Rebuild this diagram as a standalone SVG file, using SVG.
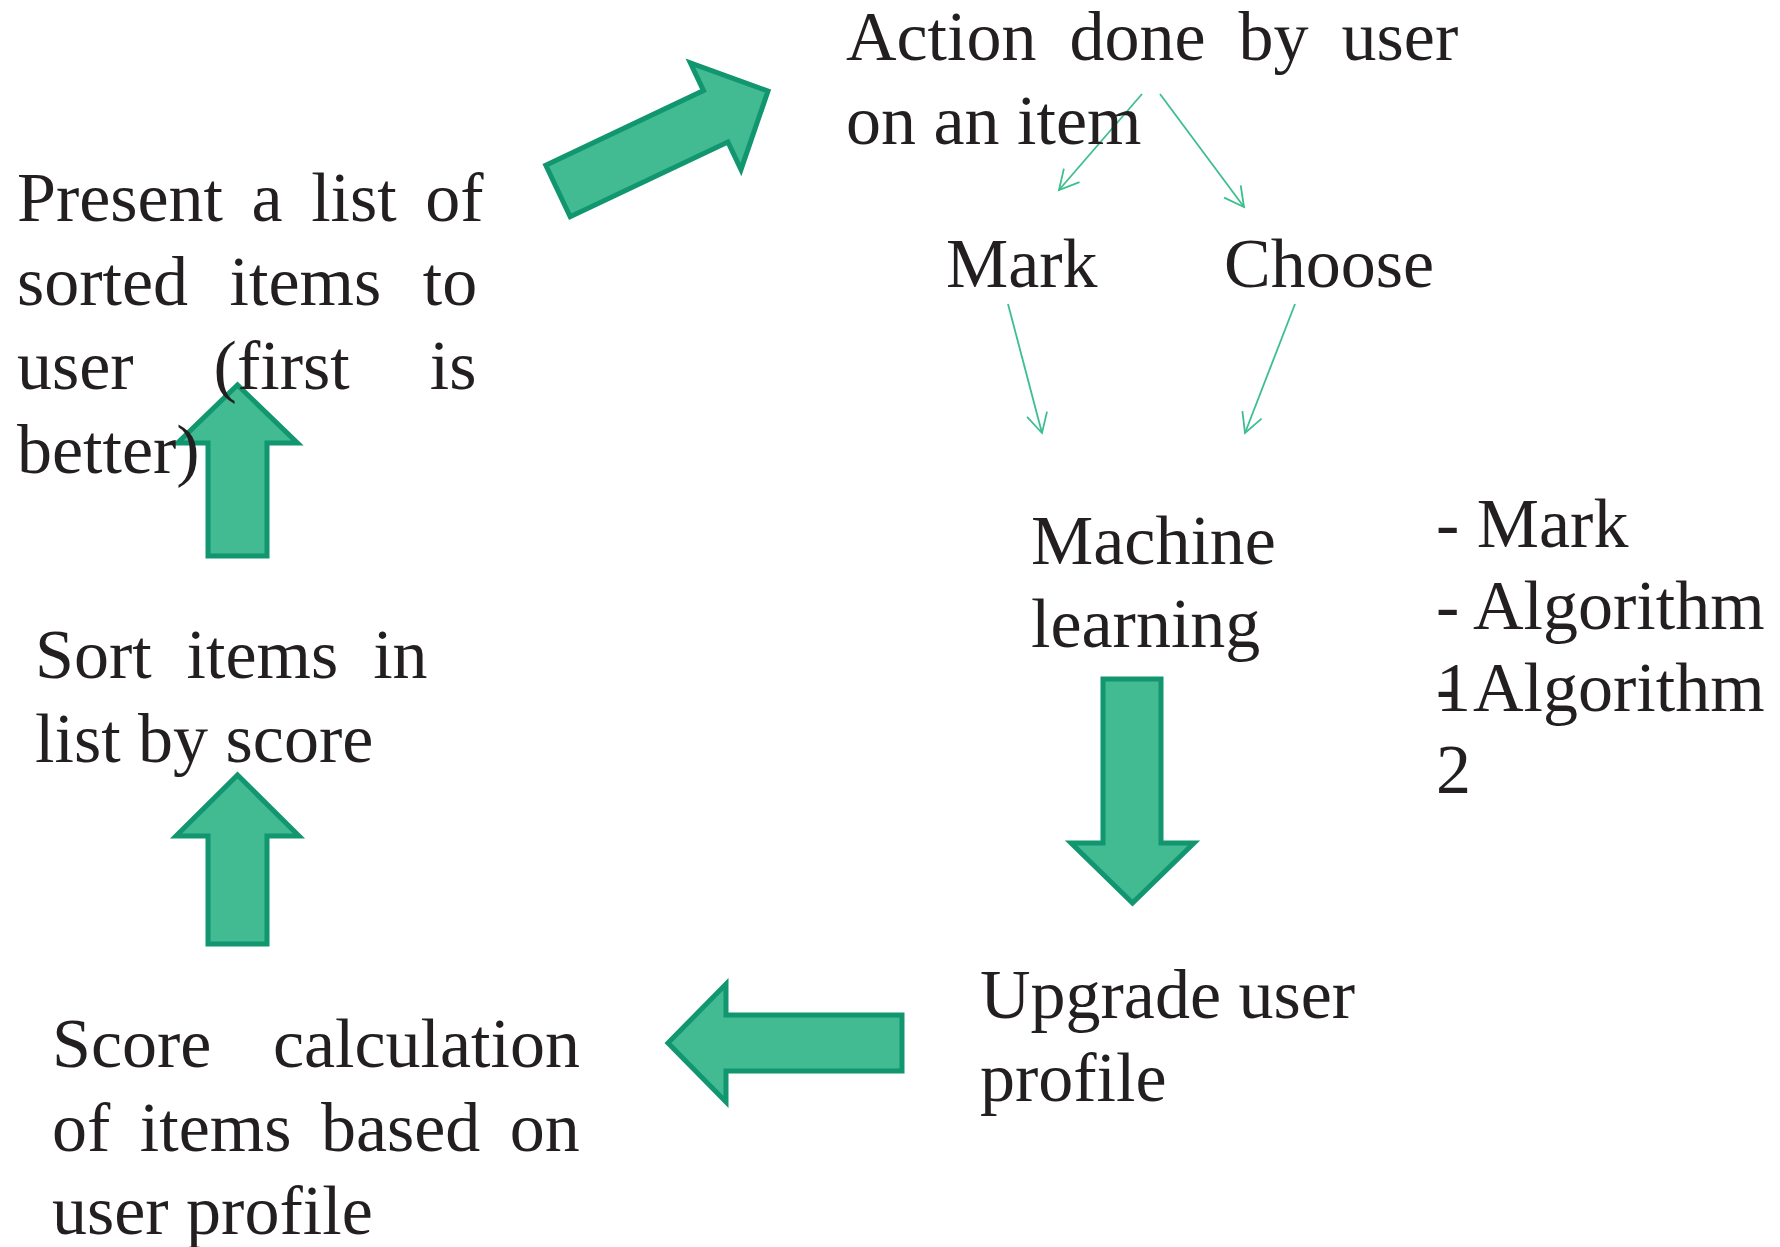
<svg xmlns="http://www.w3.org/2000/svg" width="1780" height="1247" viewBox="0 0 1780 1247">
<style>
  text { font-family: "Liberation Serif", "Times New Roman", serif; font-size: 70px; fill: #231f20; }
  .block { fill: #42ba92; stroke: #11966f; stroke-width: 5; stroke-linejoin: miter; }
  .thin { fill: none; stroke: #3dbe8f; stroke-width: 1.8; marker-end: url(#vhead); }
</style>
<defs>
  <marker id="vhead" markerUnits="userSpaceOnUse" markerWidth="26" markerHeight="26" viewBox="-23 -13 26 26" refX="0" refY="0" orient="auto" overflow="visible">
    <path d="M-19.4,-10.3 L0,0 L-19.4,10.3" fill="none" stroke="#3dbe8f" stroke-width="1.8"/>
  </marker>
</defs>
<rect width="1780" height="1247" fill="#ffffff"/>

<g id="connectors">
  <line class="thin" x1="1142" y1="94" x2="1059" y2="190"/>
  <line class="thin" x1="1160" y1="94" x2="1244" y2="207"/>
  <line class="thin" x1="1008" y1="304" x2="1042" y2="433"/>
  <line class="thin" x1="1295" y1="304" x2="1245" y2="433"/>
  <polygon id="arrow-present-action" class="block" points="545.8,165.3 703.5,90.6 690.4,63 768,91 741,169.6 727.9,142 570.2,216.7"/>
  <polygon id="arrow-ml-upgrade" class="block" points="1103,679 1161,679 1161,843 1194,843 1132.5,903 1071,843 1103,843"/>
  <polygon id="arrow-upgrade-score" class="block" points="902,1015 726,1015 726,984 668,1043 726,1102 726,1071 902,1071"/>
  <polygon id="arrow-score-sort" class="block" points="208,944 208,836 176,836 237.5,775 299,836 267,836 267,944"/>
  <polygon id="arrow-sort-present" class="block" points="208,556 208,443 177.5,443 237.5,385 297.5,443 267,443 267,556"/>
</g>

<g id="node-action">
  <text x="846" y="60" word-spacing="15.5">Action done by user</text>
  <text x="846" y="144">on an item</text>
</g>
<g id="node-mark">
  <text x="946" y="287">Mark</text>
</g>
<g id="node-choose">
  <text x="1224" y="287">Choose</text>
</g>
<g id="node-ml">
  <text x="1031" y="564">Machine</text>
  <text x="1031" y="647">learning</text>
</g>
<g id="node-ml-list">
  <text x="1436" y="547">- Mark</text>
  <text x="1436" y="629">- Algorithm</text>
  <text x="1436" y="711">- Algorithm<tspan x="1436" y="711">1</tspan></text>
  <text x="1436" y="793">2</text>
</g>
<g id="node-upgrade">
  <text x="980" y="1018">Upgrade user</text>
  <text x="980" y="1101">profile</text>
</g>
<g id="node-score">
  <text x="52" y="1067" word-spacing="44">Score calculation</text>
  <text x="52" y="1151" word-spacing="12">of items based on</text>
  <text x="52" y="1234">user profile</text>
</g>
<g id="node-sort">
  <text x="35" y="678" word-spacing="17.4">Sort items in</text>
  <text x="35" y="762">list by score</text>
</g>
<g id="node-present">
  <text x="17" y="221" word-spacing="11">Present a list of</text>
  <text x="17" y="305" word-spacing="24">sorted items to</text>
  <text x="17" y="389" word-spacing="62.5">user (first is</text>
  <text x="17" y="473">better)</text>
</g>
</svg>
